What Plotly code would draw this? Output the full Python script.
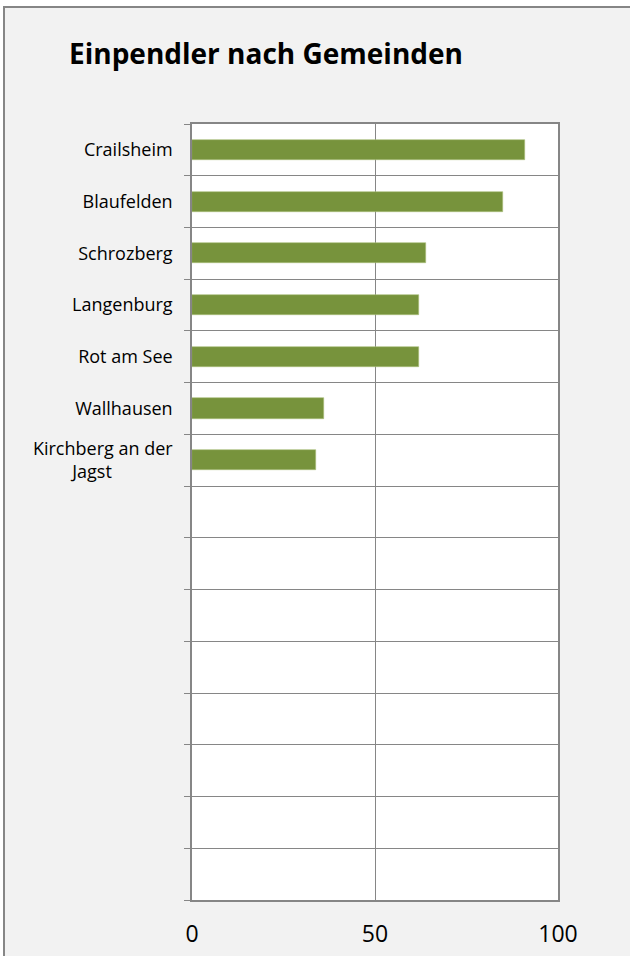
import plotly.graph_objects as go

# ---- data ----
categories = ["Crailsheim", "Blaufelden", "Schrozberg", "Langenburg", "Rot am See",
              "Wallhausen", "Kirchberg an der Jagst", "", "", "", "", "", "", "", ""]
values = [91, 85, 64, 62, 62, 36, 34]
x_ticks = [0, 50, 100]
title_text = "Einpendler nach Gemeinden"

# ---- styling ----
GRID = "#868686"
BAR = "#77933C"
BG = "#F2F2F2"
FONT = "Open Sans"

def label(s):
    if s == "Kirchberg an der Jagst":
        return "Kirchberg an der<br>Jagst" + "\u00a0" * 13
    return s

positions = list(range(len(categories)))

fig = go.Figure()
fig.add_trace(go.Bar(
    x=values,
    y=positions[:len(values)],
    orientation="h",
    width=0.39,
    marker=dict(color=BAR, line=dict(color="#A9C07A", width=0.6)),
    hoverinfo="x+y",
))

fig.update_layout(
    width=630, height=956,
    autosize=False,
    paper_bgcolor=BG, plot_bgcolor="white",
    margin=dict(l=192, r=72, t=124, b=56, autoexpand=False),
    showlegend=False,
    bargap=0,
    title=dict(text="<b>" + title_text + "</b>", x=266 / 630, xref="container", xanchor="center",
               y=1 - 54 / 956, yref="container", yanchor="middle",
               font=dict(family=FONT, size=28, color="black")),
    font=dict(family=FONT, color="black"),
)

fig.update_xaxes(
    range=[0, 100], tickvals=x_ticks, ticktext=[str(v) for v in x_ticks],
    showgrid=True, gridcolor=GRID, gridwidth=1,
    showline=True, linecolor=GRID, linewidth=1.5, mirror=True,
    ticks="", zeroline=False, automargin=False,
    tickfont=dict(family=FONT, size=23, color="black"),
    ticklabelstandoff=13,
)

fig.update_yaxes(
    range=[len(categories) - 0.5, -0.5],
    tickvals=positions, ticktext=[label(c) for c in categories],
    showgrid=False, zeroline=False, automargin=False,
    showline=True, linecolor=GRID, linewidth=1.5, mirror=True,
    ticks="outside", ticklen=0, tickcolor=GRID,
    ticklabelstandoff=14,
    tickfont=dict(family=FONT, size=18, color="black"),
    minor=dict(tickvals=[p - 0.5 for p in positions] + [len(categories) - 0.5],
               ticks="outside", ticklen=6, tickcolor=GRID, tickwidth=1,
               showgrid=True, gridcolor=GRID, gridwidth=1),
)

def px_x(p):
    return (p - 192) / 366

def px_y(p):
    return (900 - p) / 776

# white page strip outside the chart frame (left and top)
fig.add_shape(type="rect", xref="paper", yref="paper",
              x0=px_x(-5), x1=px_x(3), y0=px_y(960), y1=px_y(-5),
              fillcolor="white", line=dict(width=0))
fig.add_shape(type="rect", xref="paper", yref="paper",
              x0=px_x(-5), x1=px_x(640), y0=px_y(6), y1=px_y(-5),
              fillcolor="white", line=dict(width=0))
# outer chart border (left and top edges visible)
fig.add_shape(type="line", xref="paper", yref="paper",
              x0=px_x(4), x1=px_x(4), y0=px_y(7), y1=px_y(960),
              line=dict(color=GRID, width=2))
fig.add_shape(type="line", xref="paper", yref="paper",
              x0=px_x(3), x1=px_x(640), y0=px_y(7), y1=px_y(7),
              line=dict(color=GRID, width=2))

fig.write_html("out.html", config={"displayModeBar": False},
               post_script="document.body.style.margin='0px';")
